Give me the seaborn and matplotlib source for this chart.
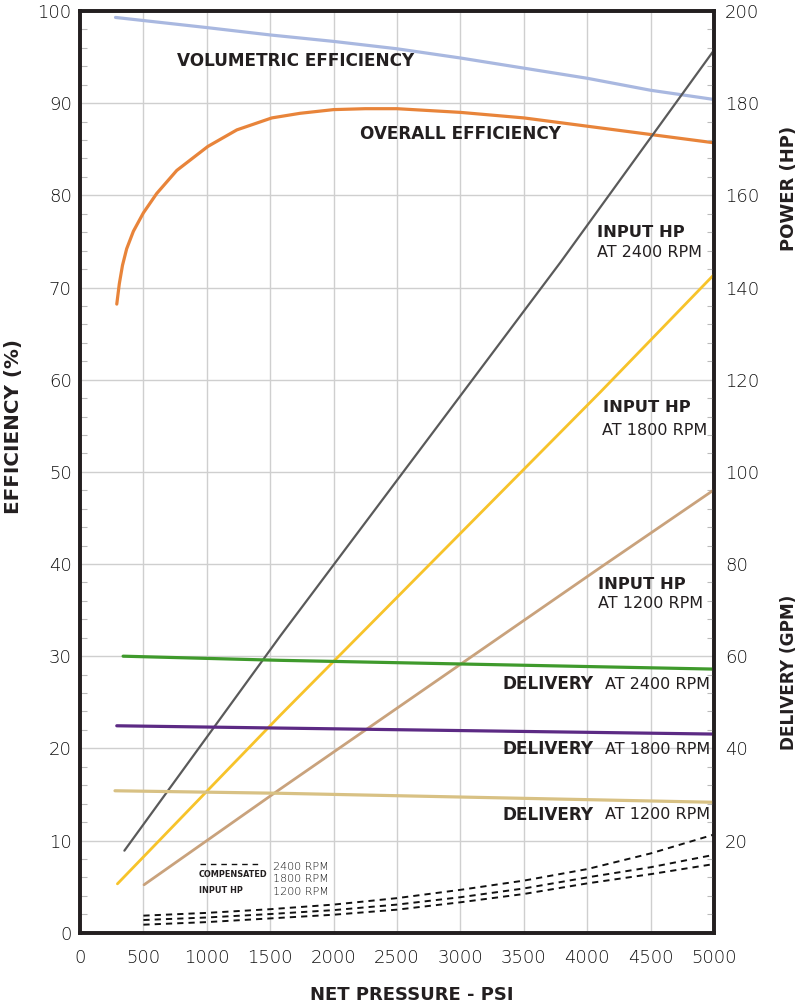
import matplotlib
matplotlib.use("Agg")
import matplotlib.pyplot as plt
from matplotlib.lines import Line2D
from matplotlib.ticker import MultipleLocator
import seaborn as sns
import pandas as pd

# ---------------- data ----------------
vol_psi = [280, 1000, 1500, 2000, 2500, 3000, 3500, 4000, 4500, 5000]
vol_eff = [99.3, 98.2, 97.4, 96.7, 95.9, 94.9, 93.8, 92.7, 91.4, 90.4]

ovr_psi = [290, 310, 335, 368, 421, 500, 605, 763, 1008, 1237, 1513, 1736, 2000, 2250,
           2500, 3000, 3500, 4000, 4500, 5000]
ovr_eff = [68.2, 70.4, 72.4, 74.2, 76.1, 78.1, 80.2, 82.7, 85.3, 87.1, 88.4, 88.9, 89.3, 89.4,
           89.4, 89.0, 88.4, 87.5, 86.6, 85.7]

hp2400_psi = [350, 1580, 3790, 5000]
hp2400 = [17.8, 64.4, 145.5, 191.5]
hp1800_psi = [295, 1580, 4107, 5000]
hp1800 = [10.6, 47.2, 117.4, 142.8]
hp1200_psi = [505, 1580, 4107, 5000]
hp1200 = [10.4, 31.2, 79.3, 96.1]

del2400_psi = [340, 1580, 5000]
del2400 = [60.0, 59.1, 57.2]
del1800_psi = [290, 1580, 5000]
del1800 = [44.9, 44.4, 43.1]
del1200_psi = [276, 1580, 5000]
del1200 = [30.8, 30.25, 28.3]

comp_psi = [500, 1000, 1500, 2000, 2500, 3000, 3500, 4000, 4500, 5000]
comp2400 = [3.7, 4.3, 5.1, 6.1, 7.5, 9.3, 11.3, 13.8, 17.2, 21.3]
comp1800 = [2.75, 3.3, 4.05, 4.9, 6.1, 7.7, 9.6, 12.0, 14.2, 16.9]
comp1200 = [1.74, 2.3, 3.1, 3.9, 5.0, 6.6, 8.4, 10.7, 12.7, 14.9]

x_ticks = [0, 500, 1000, 1500, 2000, 2500, 3000, 3500, 4000, 4500, 5000]
left_ticks = [0, 10, 20, 30, 40, 50, 60, 70, 80, 90, 100]
right_ticks = [20, 40, 60, 80, 100, 120, 140, 160, 180, 200]

# ---------------- style ----------------
sns.set_style("white")
plt.rcParams["font.family"] = ["DejaVu Sans"]

C_VOL = "#a9b8e0"
C_OVR = "#e8843a"
C_G = "#5a5a5a"
C_Y = "#f7c32a"
C_T = "#c9a27c"
C_GRN = "#3f9a2c"
C_PUR = "#5c2a84"
C_TD = "#d8c184"
DARK = "#231f20"
GRID = "#cfcfcf"

fig = plt.figure(figsize=(8, 10.08), dpi=100)
ax = fig.add_axes([0.1, 0.0747, 0.7925, 0.9144])
ax2 = ax.twinx()

def line(a, xs, ys, color, lw, ls="-"):
    df = pd.DataFrame({"x": xs, "y": ys})
    sns.lineplot(data=df, x="x", y="y", ax=a, color=color, linewidth=lw,
                 linestyle=ls, sort=False, estimator=None, legend=False)

# efficiency (left axis)
line(ax, vol_psi, vol_eff, C_VOL, 2.3)
line(ax, ovr_psi, ovr_eff, C_OVR, 2.3)

# power & delivery (right axis)
line(ax2, hp2400_psi, hp2400, C_G, 1.6)
line(ax2, hp1800_psi, hp1800, C_Y, 2.0)
line(ax2, hp1200_psi, hp1200, C_T, 2.0)
line(ax2, del2400_psi, del2400, C_GRN, 2.3)
line(ax2, del1800_psi, del1800, C_PUR, 2.3)
line(ax2, del1200_psi, del1200, C_TD, 2.3)
for ys in (comp2400, comp1800, comp1200):
    line(ax2, comp_psi, ys, "#111111", 1.4, ls=(0, (3.2, 2.6)))

# ---------------- axes ----------------
ax.set_xlim(0, 5000)
ax.set_ylim(0, 100)
ax2.set_ylim(0, 200)
ax.set_xlabel("")
ax.set_ylabel("")
ax2.set_ylabel("")

ax.set_xticks(x_ticks)
ax.set_yticks(left_ticks)
ax2.set_yticks(right_ticks)
ax.xaxis.set_minor_locator(MultipleLocator(100))
ax.yaxis.set_minor_locator(MultipleLocator(2))
ax2.yaxis.set_minor_locator(MultipleLocator(4))

ax.grid(True, which="major", color=GRID, linewidth=1.0)
ax.set_axisbelow(True)
ax2.grid(False)

tick_font = dict(family="DejaVu Sans", weight="light", size=13)
ax.set_xticklabels([str(t) for t in x_ticks], **tick_font)
ax.set_yticklabels([str(t) for t in left_ticks], **tick_font)
ax2.set_yticklabels([str(t) for t in right_ticks], **tick_font)

ax.tick_params(axis="x", which="major", direction="out", length=5, width=0.8,
               color="#bbbbbb", pad=7, labelcolor="#111111")
ax.tick_params(axis="x", which="minor", direction="out", length=5, width=0.8,
               color="#bbbbbb")
ax.tick_params(axis="y", which="major", length=0, pad=6, labelcolor="#111111")
ax.tick_params(axis="y", which="minor", direction="in", length=5, width=0.8,
               color="#bbbbbb")
ax2.tick_params(axis="y", which="major", length=0, pad=8, labelcolor="#111111")
ax2.tick_params(axis="y", which="minor", direction="in", length=5, width=0.8,
                color="#bbbbbb")

for a in (ax, ax2):
    for s in a.spines.values():
        s.set_color(DARK)
        s.set_linewidth(2.6)

# ---------------- annotations ----------------
bold = dict(family="DejaVu Sans", weight="bold", color=DARK)
reg = dict(family="DejaVu Sans", color=DARK)

ax.text(1703, 94.6, "VOLUMETRIC EFFICIENCY", ha="center", va="center", size=12.2, **bold)
ax.text(3000, 86.65, "OVERALL EFFICIENCY", ha="center", va="center", size=12.2, **bold)

ax.text(4077, 76.0, "INPUT HP", ha="left", va="center", size=11.8, **bold)
ax.text(4077, 73.8, "AT 2400 RPM", ha="left", va="center", size=11.5, **reg)
ax.text(4127, 57.0, "INPUT HP", ha="left", va="center", size=11.8, **bold)
ax.text(4120, 54.5, "AT 1800 RPM", ha="left", va="center", size=11.5, **reg)
ax.text(4088, 37.8, "INPUT HP", ha="left", va="center", size=11.8, **bold)
ax.text(4088, 35.7, "AT 1200 RPM", ha="left", va="center", size=11.5, **reg)

for yv, rpm in ((26.98, "2400"), (19.93, "1800"), (12.77, "1200")):
    ax.text(3334, yv, "DELIVERY", ha="left", va="center", size=12.2, **bold)
    ax.text(4968, yv, f"AT {rpm} RPM", ha="right", va="center", size=11.5, **reg)

# compensated input hp key
ax.add_line(Line2D([0.189, 0.281], [0.0745, 0.0745], transform=ax.transAxes,
                   color="#111111", linewidth=1.0, linestyle=(0, (4, 3.5))))
narrow = dict(family="DejaVu Sans", stretch="condensed", weight="bold", color=DARK)
ax.text(938, 6.27, "COMPENSATED", ha="left", va="center", size=6.5, **narrow)
ax.text(938, 4.56, "INPUT HP", ha="left", va="center", size=6.5, **narrow)
small = dict(family="DejaVu Sans", weight="light", color="#111111", size=8)
ax.text(1522, 7.16, "2400 RPM", ha="left", va="center", **small)
ax.text(1522, 5.83, "1800 RPM", ha="left", va="center", **small)
ax.text(1522, 4.45, "1200 RPM", ha="left", va="center", **small)

# axis titles
fig.text(412 / 800, 1 - 995 / 1008, "NET PRESSURE - PSI", ha="center", va="center",
         size=13, **bold)
fig.text(14 / 800, 1 - 427 / 1008, "EFFICIENCY (%)", ha="center", va="center",
         rotation=90, size=14.3, **bold)
fig.text(789 / 800, 1 - 188 / 1008, "POWER (HP)", ha="center", va="center",
         rotation=90, size=13, **bold)
fig.text(789 / 800, 1 - 672 / 1008, "DELIVERY (GPM)", ha="center", va="center",
         rotation=90, size=12.2, **bold)

fig.savefig("out.png", dpi=100, facecolor="white")
